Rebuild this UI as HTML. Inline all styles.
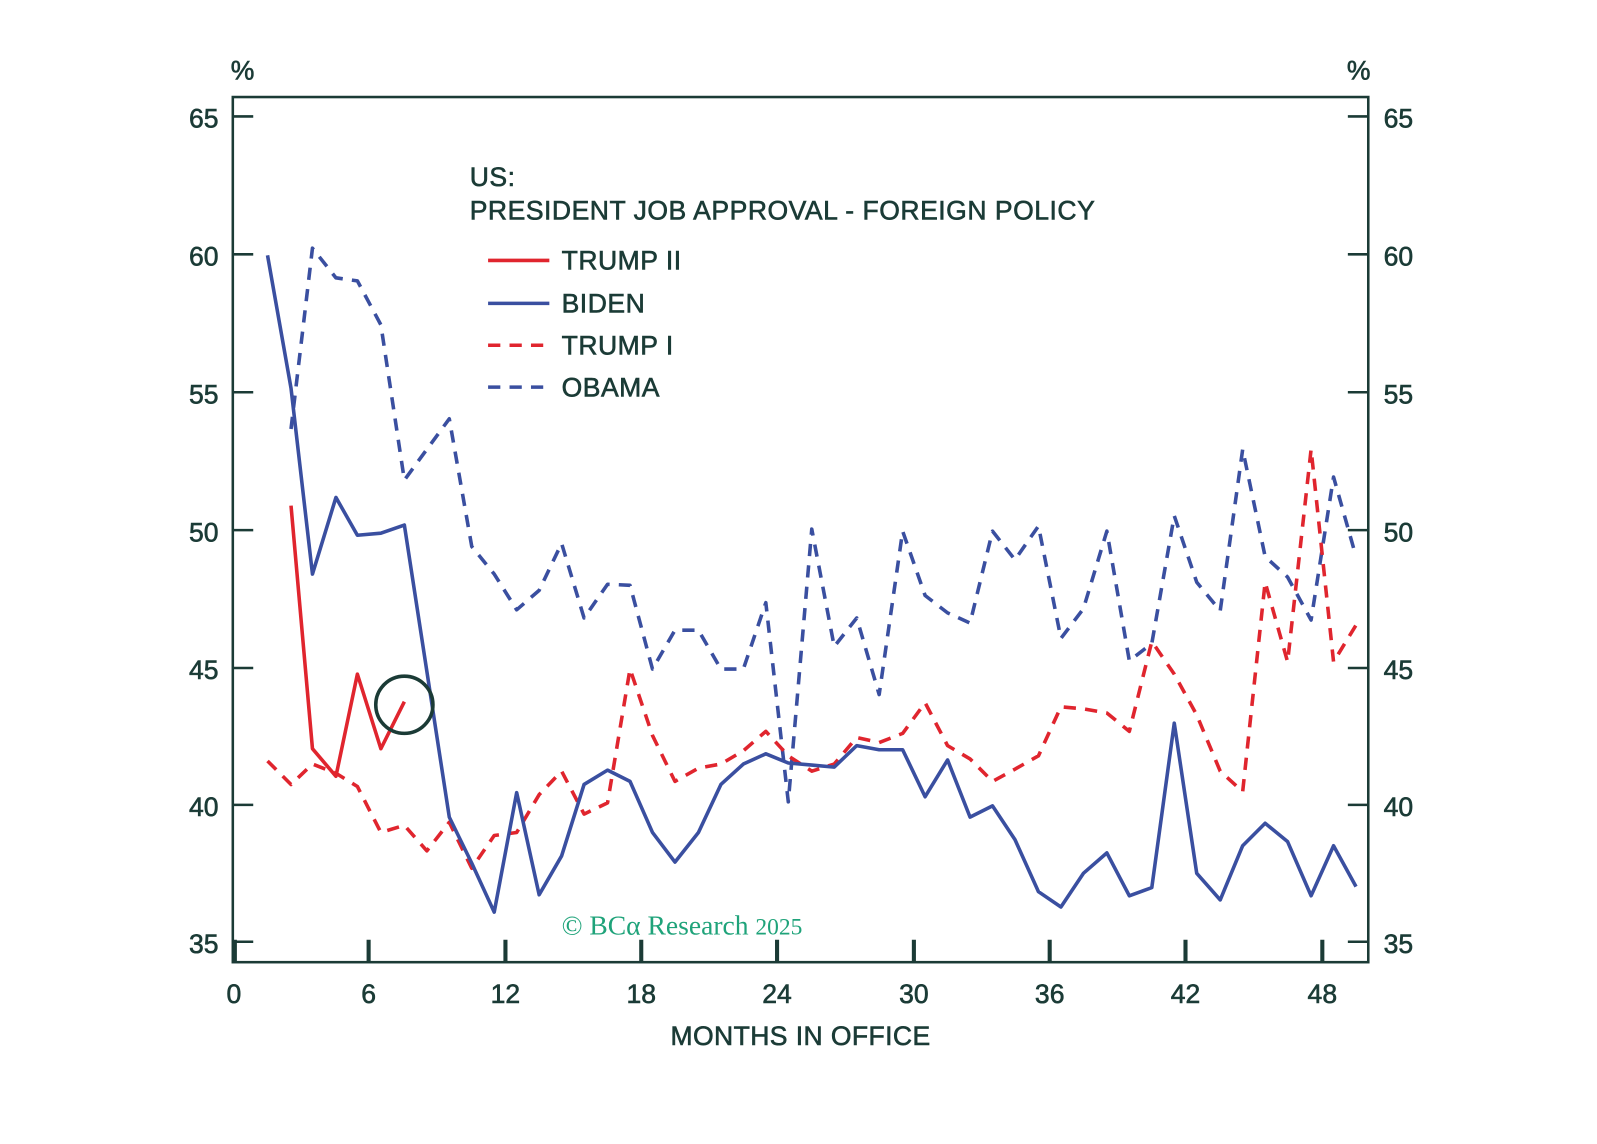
<!DOCTYPE html>
<html><head><style>html,body{margin:0;padding:0;background:#fff}svg{display:block}</style></head>
<body>
<svg width="1597" height="1144" viewBox="0 0 1564 1120" preserveAspectRatio="none" xmlns="http://www.w3.org/2000/svg" font-family="Liberation Sans, sans-serif">
<rect width="1564" height="1120" fill="#fff"/>
<g stroke="#1b3b36" stroke-width="2.5" fill="none">
<rect x="228" y="95" width="1112" height="847"/>
<path d="M228 114h20M228 249h20M228 384h20M228 519h20M228 654h20M228 788h20M228 922h20"/>
<path d="M1320 114h20M1320 249h20M1320 384h20M1320 519h20M1320 654h20M1320 788h20M1320 922h20"/>
</g>
<g stroke="#1b3b36" stroke-width="4">
<path d="M361 920v22M495 920v22M628 920v22M761 920v22M895 920v22M1028 920v22M1161 920v22M1295 920v22M230 920v22"/>
</g>
<g fill="#1b3b36" stroke="#1b3b36" stroke-width="0.6">
<g font-size="26" text-anchor="end">
<text x="214" y="125">65</text><text x="214" y="260">60</text><text x="214" y="395">55</text><text x="214" y="530">50</text><text x="214" y="665">45</text><text x="214" y="799">40</text><text x="214" y="933">35</text>
</g>
<g font-size="26">
<text x="1355" y="125">65</text><text x="1355" y="260">60</text><text x="1355" y="395">55</text><text x="1355" y="530">50</text><text x="1355" y="665">45</text><text x="1355" y="799">40</text><text x="1355" y="933">35</text>
<text x="226" y="78">%</text><text x="1319" y="78">%</text>
</g>
<g font-size="26" text-anchor="middle">
<text x="229" y="982">0</text><text x="361" y="982">6</text><text x="495" y="982">12</text><text x="628" y="982">18</text><text x="761" y="982">24</text><text x="895" y="982">30</text><text x="1028" y="982">36</text><text x="1161" y="982">42</text><text x="1295" y="982">48</text>
<text x="784" y="1023" letter-spacing="0.4">MONTHS IN OFFICE</text>
</g>
<g font-size="26" letter-spacing="0.5">
<text x="460" y="182">US:</text>
<text x="460" y="215">PRESIDENT JOB APPROVAL - FOREIGN POLICY</text>
<text x="550" y="264">TRUMP II</text><text x="550" y="306">BIDEN</text><text x="550" y="347">TRUMP I</text><text x="550" y="388">OBAMA</text>
</g>
</g>
<g stroke-width="3.5" fill="none">
<path d="M478 255h60" stroke="#e0252e"/>
<path d="M478 297h60" stroke="#3a4fa0"/>
<path d="M478 338h60" stroke="#e0252e" stroke-dasharray="12,9"/>
<path d="M478 379h60" stroke="#3a4fa0" stroke-dasharray="12,9"/>
</g>
<text x="550" y="915" font-family="Liberation Serif, serif" font-size="27" fill="#1fa37a">© BCα Research <tspan font-size="23">2025</tspan></text>
<g fill="none" stroke-width="3.5" stroke-linejoin="round">
<polyline stroke="#3a4fa0" stroke-dasharray="12,9" points="285,420 306,243 329,272 350,275 373,318 396,470 418,440 440,410 462,535 484,562 506,597 528,578 550,532 572,605 595,572 617,573 639,655 661,617 684,617 706,655 728,655 750,590 772,785 795,518 817,633 839,605 861,680 884,520 906,583 928,600 950,610 972,520 994,548 1017,515 1039,625 1061,596 1084,520 1106,647 1128,630 1150,505 1172,570 1195,598 1217,440 1239,545 1261,565 1284,607 1306,467 1328,545"/>
<polyline stroke="#e0252e" stroke-dasharray="12,9" points="262,745 285,768 306,748 329,757 350,770 373,815 396,808 418,833 440,805 462,850 484,818 506,815 528,778 550,755 572,797 595,786 617,655 639,720 661,765 684,752 706,748 728,735 750,716 772,740 795,755 817,748 839,722 861,727 884,718 906,688 928,730 950,743 972,765 994,753 1017,740 1039,692 1061,694 1084,698 1106,716 1128,628 1150,660 1172,700 1195,755 1217,775 1239,570 1261,648 1284,440 1306,648 1328,612"/>
<polyline stroke="#3a4fa0" points="262,250 285,380 306,562 329,487 350,524 373,522 396,514 440,800 462,845 484,893 506,776 528,876 550,838 572,768 595,754 617,765 639,815 661,844 684,815 706,768 728,748 750,738 772,747 795,749 817,751 839,730 861,734 884,734 906,780 928,744 950,800 972,789 994,822 1017,873 1039,888 1061,855 1084,835 1106,877 1128,869 1150,708 1172,855 1195,881 1217,828 1239,806 1261,824 1284,877 1306,828 1328,868"/>
<polyline stroke="#e0252e" points="285,495 306,733 329,760 350,660 373,733 396,687"/>
</g>
<circle cx="396" cy="690" r="28" fill="none" stroke="#1b3b36" stroke-width="3.5"/>
</svg>
</body></html>
